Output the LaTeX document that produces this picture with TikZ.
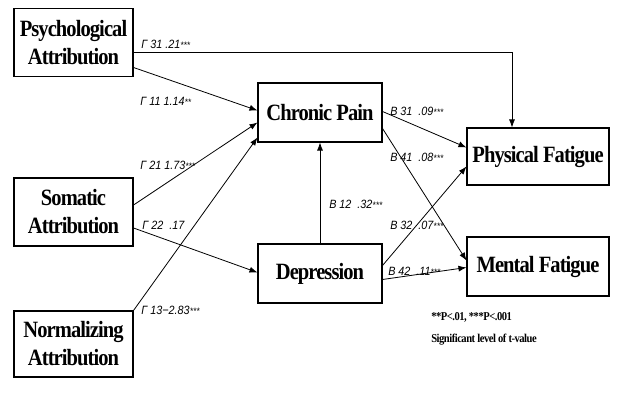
\documentclass[tikz,border=0pt]{standalone}
\usepackage{fontspec}
\setmainfont{Liberation Serif}
\newfontfamily\boxfont{Liberation Serif}[FakeStretch=0.88,LetterSpace=-4]
\newfontfamily\lblfont{Liberation Sans}[FakeStretch=0.9]
\usetikzlibrary{arrows.meta,calc}

\tikzset{
  var/.style={draw, line width=0.8pt, align=center, inner sep=0pt,
    font=\boxfont\bfseries\fontsize{17.5}{21}\selectfont},
  arr/.style={line width=0.6pt, -{Latex[length=6pt,width=4.5pt]}},
  coef/.style={anchor=west, inner sep=0pt, font=\lblfont\itshape\fontsize{9}{10}\selectfont},
  note/.style={anchor=west, inner sep=0pt, font=\boxfont\bfseries\fontsize{9}{10}\selectfont}
}

\begin{document}
\begin{tikzpicture}[x=0.75pt, y=-0.75pt]

    \useasboundingbox (0,0) rectangle (619,416);

    % attributions (left column)
    \node[var, minimum width=119*0.75pt, minimum height=68*0.75pt] (psy) at (73.5,42.5) {Psychological\\Attribution};
    \node[var, minimum width=119*0.75pt, minimum height=68*0.75pt] (som) at (73.5,212) {Somatic\\Attribution};
    \node[var, minimum width=119*0.75pt, minimum height=66*0.75pt] (nor) at (73.5,344) {Normalizing\\Attribution};

    % mediators
    \node[var, minimum width=124*0.75pt, minimum height=59*0.75pt] (pain) at (320,112.5) {Chronic Pain};
    \node[var, minimum width=124*0.75pt, minimum height=59*0.75pt] (dep) at (320,273.5) {Depression};

    % outcomes
    \node[var, minimum width=142*0.75pt, minimum height=57*0.75pt] (phy) at (538,156.5) {Physical Fatigue};
    \node[var, minimum width=142*0.75pt, minimum height=59*0.75pt] (men) at (538,266.5) {Mental Fatigue};

    % paths from attributions
    \draw[arr] ($(psy.east)+(0,10)$) -| ($(phy.north)+(-26,0)$);
    \draw[arr] ($(psy.east)+(0,25)$) -- ($(pain.west)+(0,-2)$);
    \draw[arr] ($(som.east)+(0,-7)$) -- ($(pain.west)+(0,10)$);
    \draw[arr] (nor.north east) -- ($(pain.west)+(0,25)$);
    \draw[arr] ($(som.east)+(0,16)$) -- ($(dep.west)+(0,-1)$);

    % paths between mediators and outcomes
    \draw[arr] (dep.north) -- (pain.south);
    \draw[arr] ($(pain.east)+(0,-1)$) -- ($(phy.west)+(0,-9)$);
    \draw[arr] ($(pain.east)+(0,16)$) -- ($(men.west)+(0,-6)$);
    \draw[arr] ($(dep.east)+(0,-8)$) -- ($(phy.west)+(0,10)$);
    \draw[arr] ($(dep.east)+(0,6)$) -- ($(men.west)+(0,1)$);

    % coefficients
    \node[coef] (g31) at (141,44) {Γ 31 .21{\scriptsize***}};
    \node[coef] (g11) at (140,101) {Γ 11 1.14{\scriptsize**}};
    \node[coef] (g21) at (140,165) {Γ 21 1.73{\scriptsize***}};
    \node[coef] (g22) at (142,225) {Γ 22 \ .17};
    \node[coef] (g13) at (141,310) {Γ 13−2.83{\scriptsize***}};
    \node[coef] (b12) at (329,204) {B 12 \ .32{\scriptsize***}};
    \node[coef] (b31) at (390,111) {B 31 \ .09{\scriptsize***}};
    \node[coef] (b41) at (390,157) {B 41 \ .08{\scriptsize***}};
    \node[coef] (b32) at (390,225) {B 32 \ .07{\scriptsize***}};
    \node[coef] (b42) at (388,271) {B 42 \ .11{\scriptsize***}};

    % significance note
    \node[note] (sig) at (431,317) {**P<.01, ***P<.001};
    \node[note] (tval) at (431,340) {Significant level of t-value};

\end{tikzpicture}
\end{document}
